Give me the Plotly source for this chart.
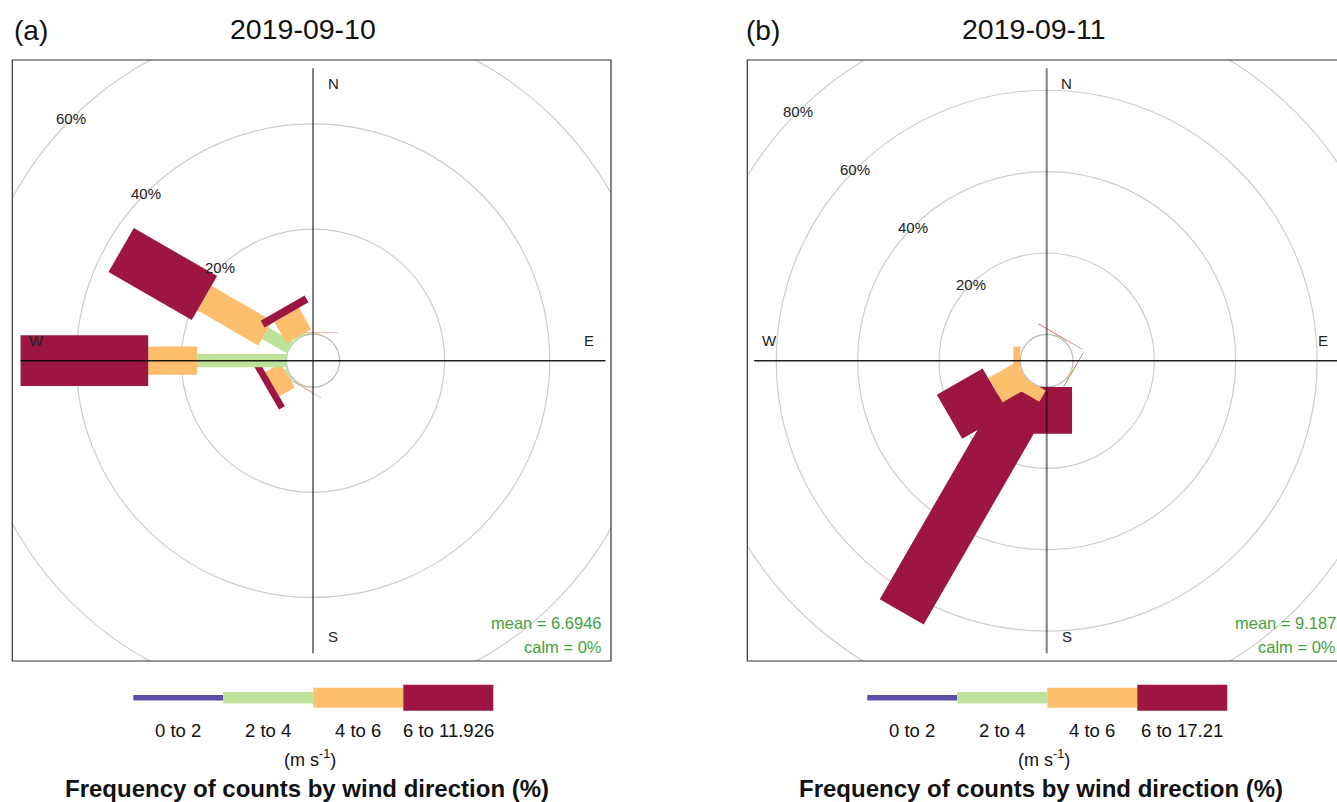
import numpy as np
import plotly.graph_objects as go

W, H = 1337, 802

# ---------------- data ----------------
DIRECTIONS = [0, 30, 60, 90, 120, 150, 180, 210, 240, 270, 300, 330]

SPEED_LABELS_A = ["0 to 2", "2 to 4", "4 to 6", "6 to 11.926"]
SPEED_LABELS_B = ["0 to 2", "2 to 4", "4 to 6", "6 to 17.21"]

# frequency (%) per direction for each speed bin -- 2019-09-10
A_0_2 = [0, 0, 0, 0, 0, 0, 0, 0, 0, 0, 0, 0]
A_2_4 = [0.15, 0, 0, 0, 0, 0, 0, 0.15, 0.5, 17.0, 5.4, 0.3]
A_4_6 = [0.1, 0, 0, 0, 0, 0, 0, 0.1, 3.4, 9.3, 13.4, 4.7]
A_6_X = [0.05, 0, 0, 0, 0, 0, 0, 0.05, 1.3, 24.3, 18.3, 1.5]

# frequency (%) per direction for each speed bin -- 2019-09-11
B_0_2 = [0, 0, 0, 0, 0, 0, 0, 0, 0, 0, 0, 0]
B_2_4 = [0, 0.2, 0, 0, 0.2, 0, 0, 0, 0, 0, 0, 0]
B_4_6 = [0, 0.1, 0, 0, 0.1, 0, 0, 3.2, 8.1, 1.7, 0, 0]
B_6_X = [0, 0.1, 0, 0, 0.1, 0, 11.5, 61.6, 13.0, 0, 0, 0]

RINGS_A = [20, 40, 60]
RINGS_B = [20, 40, 60, 80]

MEAN_A = "6.6946"
MEAN_B = "9.187"
CALM_A = "0%"
CALM_B = "0%"

TITLES = ["2019-09-10", "2019-09-11"]
TAGS = ["(a)", "(b)"]

# ---------------- style ----------------
COLORS = ["#5B4FA6", "#BDE29C", "#FDBE6E", "#9D1641"]
PADDLE_W_PX = [5, 13.3, 28.3, 50.7]
KEY_H_PX = [5.5, 11.5, 20, 26]
FONT = "Liberation Sans, Arial, sans-serif"

panels = [
    dict(bins=[A_0_2, A_2_4, A_4_6, A_6_X], labels=SPEED_LABELS_A, rings=RINGS_A,
         mean=MEAN_A, calm=CALM_A, frame=(12.3, 60, 611, 661), c=(313, 360.7),
         ppu=5.254, key_x0=133.3, title_cx=302.5, tag_x=12),
    dict(bins=[B_0_2, B_2_4, B_4_6, B_6_X], labels=SPEED_LABELS_B, rings=RINGS_B,
         mean=MEAN_B, calm=CALM_B, frame=(747.3, 60, 1344.7, 661), c=(1046.7, 360.7),
         ppu=4.068, key_x0=867.3, title_cx=1034, tag_x=744),
]

fig = go.Figure()
shapes = []
annotations = []


def px(x):
    return x / W


def py(y):
    return 1 - y / H


for i, P in enumerate(panels):
    xa = "x" if i == 0 else "x2"
    ya = "y" if i == 0 else "y2"
    xk = "xaxis" if i == 0 else "xaxis2"
    yk = "yaxis" if i == 0 else "yaxis2"
    fx0, fy0, fx1, fy1 = P["frame"]
    cx, cy = P["c"]
    ppu = P["ppu"]

    bins = [np.array(b, dtype=float) for b in P["bins"]]
    totals = np.sum(bins, axis=0)
    offset = 0.1 * totals.max()
    cum = np.cumsum(np.vstack([np.zeros(len(DIRECTIONS))] + bins), axis=0)

    # axes
    dx1 = min(fx1, W)
    fig.layout[xk] = dict(domain=[px(fx0), px(dx1)],
                          range=[(fx0 - cx) / ppu, (dx1 - cx) / ppu],
                          visible=False, fixedrange=True, anchor=ya)
    fig.layout[yk] = dict(domain=[py(fy1), py(fy0)],
                          range=[-(fy1 - cy) / ppu, (cy - fy0) / ppu],
                          visible=False, fixedrange=True, anchor=xa)

    # rings
    for v in [0] + P["rings"]:
        R = offset + v
        shapes.append(dict(type="circle", xref=xa, yref=ya, x0=-R, x1=R, y0=-R, y1=R,
                           line=dict(color="rgb(205,205,205)" if v else "rgb(185,185,185)",
                                     width=1.2), layer="below"))
        if v:
            annotations.append(dict(xref=xa, yref=ya, x=-R * np.sqrt(0.5), y=R * np.sqrt(0.5),
                                    text=f"{v}%", showarrow=False,
                                    font=dict(family=FONT, size=15, color="#222")))

    # paddles: drawn direction by direction (later directions on top)
    for j, d in enumerate(DIRECTIONS):
        t = np.radians(d)
        u = np.array([np.sin(t), np.cos(t)])
        p = np.array([np.cos(t), -np.sin(t)])
        for k in range(4):
            if bins[k][j] <= 0:
                continue
            h = PADDLE_W_PX[k] / 2 / ppu
            rs = offset + cum[k][j]
            re = offset + cum[k + 1][j]
            pts = [rs * u + h * p, re * u + h * p, re * u - h * p, rs * u - h * p, rs * u + h * p]
            fig.add_trace(go.Scatter(x=[q[0] for q in pts], y=[q[1] for q in pts],
                                     xaxis=xa, yaxis=ya, mode="lines",
                                     fill="toself", fillcolor=COLORS[k],
                                     line=dict(width=0, color=COLORS[k]),
                                     hoverinfo="skip", showlegend=False))

    # compass axes lines
    L = 292.5 / ppu
    shapes.append(dict(type="line", xref=xa, yref=ya, x0=0, x1=0, y0=-L, y1=L,
                       line=dict(color="rgba(0,0,0,0.5)", width=2), layer="above"))
    shapes.append(dict(type="line", xref=xa, yref=ya, x0=-L, x1=L, y0=0, y1=0,
                       line=dict(color="rgba(0,0,0,0.88)", width=1.5), layer="above"))

    # frame
    shapes.append(dict(type="rect", xref="paper", yref="paper",
                       x0=px(fx0), x1=px(fx1), y0=py(fy1), y1=py(fy0),
                       line=dict(color="#333", width=1.2), layer="above"))

    # compass letters
    for txt, ox, oy in [("N", 20, -277), ("E", 276, -20), ("S", 20, 276), ("W", -277, -20)]:
        annotations.append(dict(xref="paper", yref="paper", x=px(cx + ox), y=py(cy + oy),
                                text=txt, showarrow=False, xanchor="center", yanchor="middle",
                                font=dict(family=FONT, size=15, color="#222")))

    # stats
    annotations.append(dict(xref="paper", yref="paper", x=px(cx + 291), y=py(cy + 262.3),
                            text=f"mean = {P['mean']}", showarrow=False, xanchor="right",
                            yanchor="middle", font=dict(family=FONT, size=16.5, color="rgb(70,160,60)")))
    annotations.append(dict(xref="paper", yref="paper", x=px(cx + 291), y=py(cy + 286.3),
                            text=f"calm = {P['calm']}", showarrow=False, xanchor="right",
                            yanchor="middle", font=dict(family=FONT, size=16.5, color="rgb(70,160,60)")))

    # titles
    annotations.append(dict(xref="paper", yref="paper", x=px(P["tag_x"]), y=py(31),
                            text=TAGS[i], showarrow=False, xanchor="left", yanchor="middle",
                            font=dict(family=FONT, size=28, color="#111")))
    annotations.append(dict(xref="paper", yref="paper", x=px(P["title_cx"]), y=py(29),
                            text=TITLES[i], showarrow=False, xanchor="center", yanchor="middle",
                            font=dict(family=FONT, size=28.5, color="#111")))

    # legend keys
    kx = P["key_x0"]
    ky = 697.7
    for k in range(4):
        shapes.append(dict(type="rect", xref="paper", yref="paper",
                           x0=px(kx + 90 * k), x1=px(kx + 90 * (k + 1)),
                           y0=py(ky + KEY_H_PX[k] / 2), y1=py(ky - KEY_H_PX[k] / 2),
                           fillcolor=COLORS[k], line=dict(width=0)))
        annotations.append(dict(xref="paper", yref="paper", x=px(kx + 45 + 90 * k), y=py(730),
                                text=P["labels"][k], showarrow=False, xanchor="center",
                                yanchor="middle", font=dict(family=FONT, size=18.5, color="#111")))
    annotations.append(dict(xref="paper", yref="paper", x=px(kx + 176.7), y=py(758),
                            text="(m s<sup>-1</sup>)", showarrow=False, xanchor="center",
                            yanchor="middle", font=dict(family=FONT, size=18, color="#111")))
    annotations.append(dict(xref="paper", yref="paper", x=px(kx + 173.7), y=py(788),
                            text="<b>Frequency of counts by wind direction (%)</b>", showarrow=False,
                            xanchor="center", yanchor="middle",
                            font=dict(family=FONT, size=24, color="#111")))

fig.update_layout(width=W, height=H, autosize=False,
                  margin=dict(l=0, r=0, t=0, b=0, pad=0),
                  paper_bgcolor="white", plot_bgcolor="rgba(0,0,0,0)",
                  shapes=shapes, annotations=annotations, showlegend=False)

fig.write_html("out.html", config={"displayModeBar": False},
               post_script="document.body.style.margin='0px';document.body.style.overflow='hidden';")
